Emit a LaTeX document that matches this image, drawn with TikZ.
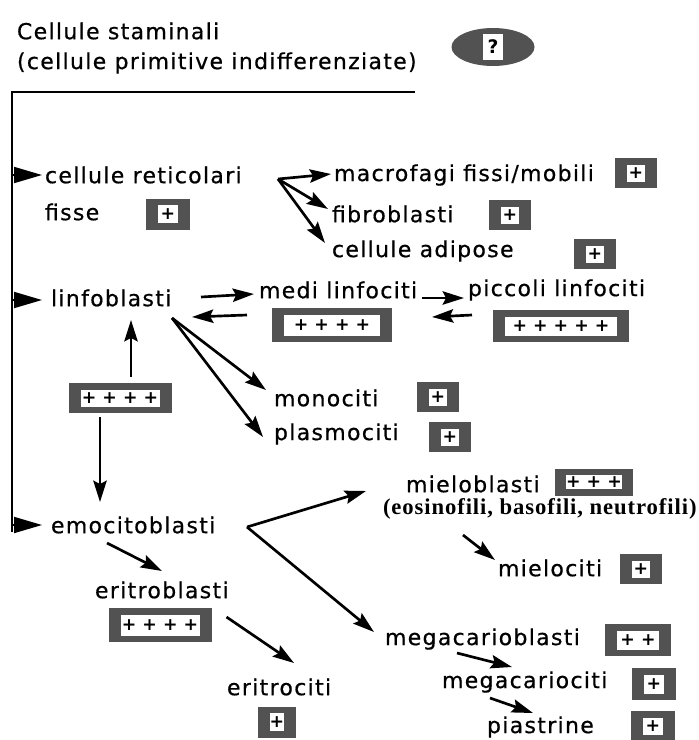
\documentclass[tikz,border=0pt]{standalone}
\usepackage{fontspec}
\setmainfont{DejaVu Sans}[LetterSpace=6,FakeBold=0.6]
\newfontfamily\notefont{Liberation Serif}[LetterSpace=4]
\newfontfamily\plusfont{DejaVu Sans}
\usetikzlibrary{arrows.meta,calc,shapes.geometric}
\newcommand\plusbox[6]{%
  \node[pout, minimum width=#4*0.75pt, minimum height=#5*0.75pt] (#1) at (#2,#3) {};
  \node[pin, minimum width=(#4-24)*0.75pt, minimum height=(#5-13)*0.75pt] (#1in) at (#1) {#6};
}
\begin{document}
\begin{tikzpicture}[x=0.75pt,y=-0.75pt,
  every node/.style={inner sep=0pt, outer sep=0pt},
  lbl/.style={anchor=west, font=\fontsize{16.5}{19}\selectfont},
  pout/.style={fill=black!68, draw=none},
  pin/.style={fill=white, draw=none, font=\plusfont\bfseries\fontsize{13}{14}\selectfont},
  conn/.style={line width=2pt, line join=miter, -{Stealth[length=16pt,width=10pt,inset=2.5pt]}},
  branch/.style={line width=1.4pt, -{Triangle[length=21pt,width=12pt]}},
  frame/.style={line width=1.4pt}]
\useasboundingbox (0,0) rectangle (699,740);
\fill[white] (0,0) rectangle (699,740);

% title
\node[lbl] (t1) at (17,31) {Cellule staminali};
\node[lbl] (t2) at (17,63) {(cellule primitive indifferenziate)};
\node[ellipse, fill=black!68, minimum width=83*0.75pt, minimum height=38*0.75pt] (q) at (493,47) {};
\node[fill=white, minimum width=20*0.75pt, minimum height=26*0.75pt, font=\plusfont\bfseries\fontsize{14}{15}\selectfont] (qin) at (q) {?};

% frame line
\coordinate (ftop) at (415,92);
\coordinate (fcorner) at (12,92);
\coordinate (fbot) at (12,532);
\draw[frame] (ftop) -- (fcorner) -- (fbot);

% cellule reticolari group
\node[lbl] (cr) at (45,175) {cellule reticolari};
\node[lbl] (fisse) at (45,212) {fisse};
\plusbox{fisseb}{168}{214}{44}{31}{+}
\node[lbl] (mac) at (334,175) {macrofagi fissi/mobili};
\plusbox{macb}{636}{173}{42}{30}{+}
\node[lbl] (fib) at (332,214) {fibroblasti};
\plusbox{fibb}{510}{215}{42}{30}{+}
\node[lbl] (adi) at (332,251) {cellule adipose};
\plusbox{adib}{595}{254}{42}{30}{+}
\coordinate (b1) at (12,175);
\draw[branch] (b1) -- ($(cr.west)+(-3,0)$);
\coordinate (crj) at ($(cr.west)+(233,4)$);
\draw[conn] (crj) -- ($(mac.west)+(-3,-1)$);
\draw[conn] (crj) -- ($(fib.west)+(-4,-5)$);
\draw[conn] (crj) -- ($(adi.west)+(-7,-8)$);

% linfoblasti group
\node[lbl] (lf) at (51,298) {linfoblasti};
\node[lbl] (medi) at (259,290) {medi linfociti};
\plusbox{medib}{332}{325}{120}{34}{+ + + +}
\node[lbl] (pic) at (468,290) {piccoli linfociti};
\plusbox{picb}{561}{326}{136}{32}{+ + + + +}
\node[lbl] (mono) at (274,398) {monociti};
\plusbox{monob}{438}{397}{42}{30}{+}
\node[lbl] (plas) at (274,434) {plasmociti};
\plusbox{plasb}{450}{437}{42}{30}{+}
\plusbox{lbox}{120}{398}{103}{30}{+ + + +}
\coordinate (b2) at (12,300);
\draw[branch] (b2) -- ($(lf.west)+(-9,2)$);
\draw[conn] ($(lf.west)+(150,-1)$) -- ($(medi.west)+(-5,4)$);
\draw[conn] ($(medi.west)+(-12,25)$) -- ($(lf.west)+(141,19)$);
\draw[conn] ($(medi.west)+(163,8)$) -- ($(pic.west)+(-4,8)$);
\draw[conn] ($(pic.west)+(4,25)$) -- ($(medi.west)+(173,27)$);
\draw[conn] ($(lf.west)+(121,20)$) -- ($(mono.west)+(-8,-8)$);
\draw[conn] ($(lf.west)+(121,20)$) -- ($(plas.west)+(-11,3)$);
\draw[conn] ($(lbox.north)+(11,-6)$) -- ($(lf.west)+(80,22)$);
\draw[conn] ($(lbox.south)+(-20,4)$) -- ($(lbox.south)+(-20,89)$);

% emocitoblasti group
\node[lbl] (emo) at (51,525) {emocitoblasti};
\coordinate (b3) at (12,525);
\draw[branch] (b3) -- ($(emo.west)+(-9,0)$);
\node[lbl] (eb) at (95,590) {eritroblasti};
\plusbox{ebb}{160}{625}{103}{34}{+ + + +}
\node[lbl] (er) at (227,687) {eritrociti};
\plusbox{erb}{277}{722}{38}{31}{+}
\node[lbl] (mb) at (406,484) {mieloblasti};
\plusbox{mbb}{594}{482}{78}{27}{+ + +}
\node[anchor=west, font=\notefont\bfseries\fontsize{17}{19}\selectfont] (eos) at (383,509) {(eosinofili, basofili, neutrofili)};
\node[lbl] (mc) at (498,568) {mielociti};
\plusbox{mcb}{641}{569}{42}{30}{+}
\node[lbl] (mgb) at (385,639) {megacarioblasti};
\plusbox{mgbb}{638}{640}{66}{32}{+ +}
\node[lbl] (mgc) at (442,682) {megacariociti};
\plusbox{mgcb}{654}{684}{44}{32}{+}
\node[lbl] (pia) at (487,727) {piastrine};
\plusbox{piab}{653}{726}{44}{30}{+}

\draw[conn] ($(emo.west)+(56,18)$) -- ($(eb.west)+(67,-19)$);
\draw[conn] ($(ebb.east)+(15,-8)$) -- ($(er.west)+(67,-24)$);
\coordinate (ev) at ($(emo.west)+(196,2)$);
\draw[conn] (ev) -- ($(mb.west)+(-40,7)$);
\draw[conn] (ev) -- ($(mgb.west)+(-11,-7)$);
\draw[conn] ($(eos.west)+(80,26)$) -- ($(mc.west)+(-3,-8)$);
\draw[conn] ($(mgb.west)+(72,14)$) -- ($(mgc.west)+(70,-15)$);
\draw[conn] ($(mgc.west)+(48,16)$) -- ($(pia.west)+(46,-14)$);
\end{tikzpicture}
\end{document}
